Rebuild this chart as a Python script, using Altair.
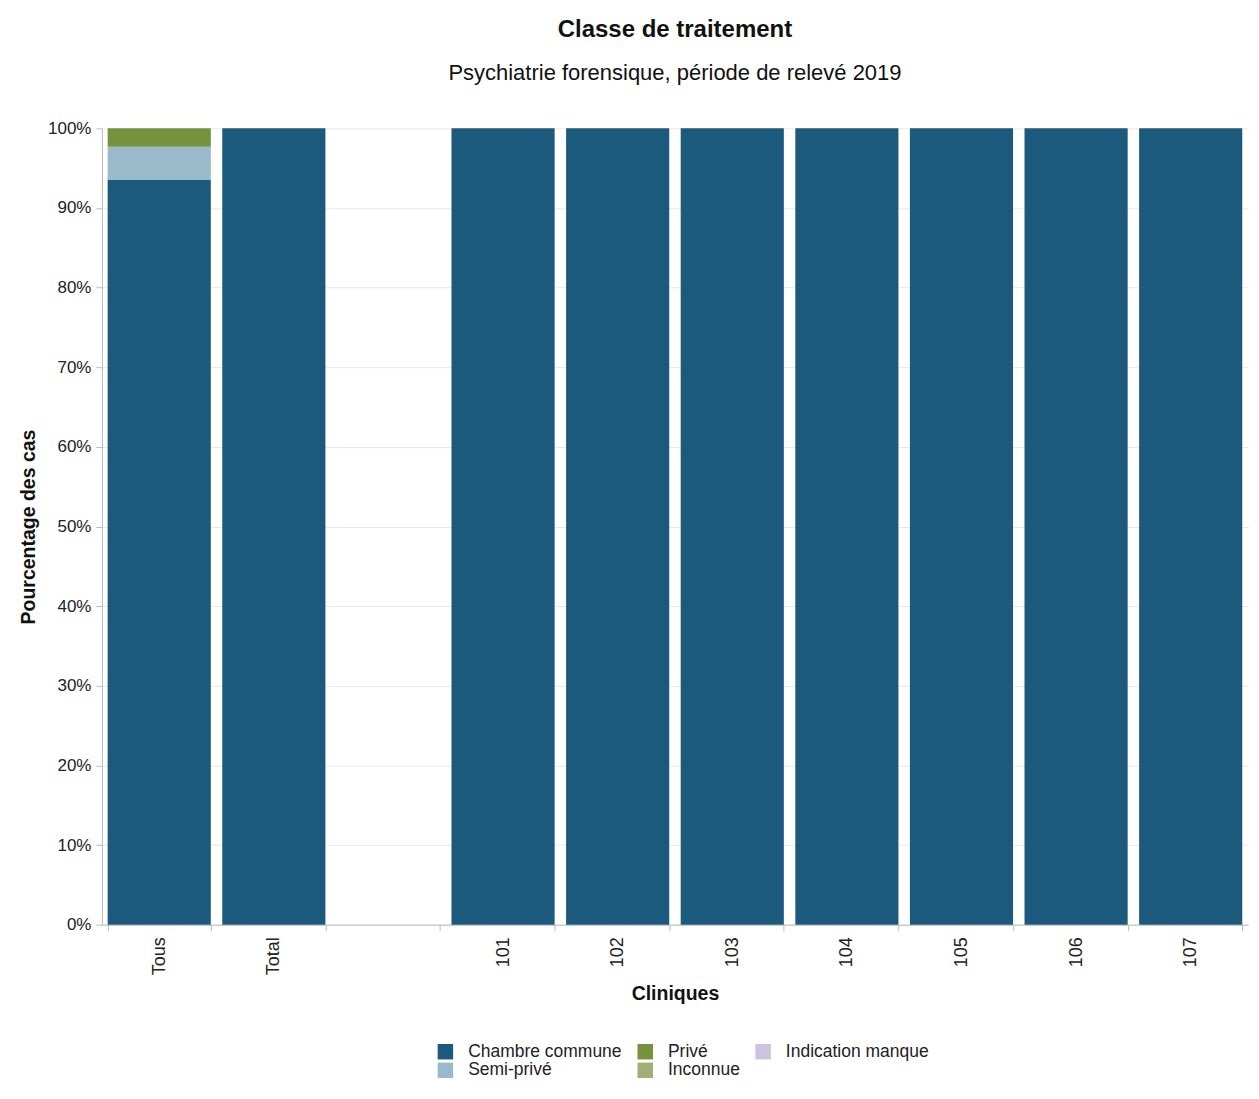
import altair as alt
import pandas as pd

categories = ["Tous", "Total", " ", "101", "102", "103", "104", "105", "106", "107"]
classes = ["Chambre commune", "Semi-privé", "Privé", "Inconnue", "Indication manque"]
colors = ["#1c5a7d", "#9ab9cb", "#75923c", "#a2ae78", "#cdc3dd"]
# legend order (row-major in 3 columns so columns read as in the reference)
legend_order = ["Chambre commune", "Privé", "Indication manque", "Semi-privé", "Inconnue"]

chambre = [93.5, 100, None, 100, 100, 100, 100, 100, 100, 100]
semi = [4.2, 0, None, 0, 0, 0, 0, 0, 0, 0]
prive = [2.3, 0, None, 0, 0, 0, 0, 0, 0, 0]
inconnue = [0, 0, None, 0, 0, 0, 0, 0, 0, 0]
indication = [0, 0, None, 0, 0, 0, 0, 0, 0, 0]

series = [chambre, semi, prive, inconnue, indication]
rows = []
for ci, (cls, vals) in enumerate(zip(classes, series)):
    for cat, v in zip(categories, vals):
        if v is None:
            continue
        rows.append({"Clinique": cat, "Classe": cls, "Pct": v / 100.0, "ordre": ci})
df = pd.DataFrame(rows)

color_domain = legend_order
color_range = [colors[classes.index(c)] for c in legend_order]

FONT = "Liberation Sans"

chart = alt.Chart(df).mark_bar().encode(
    x=alt.X("Clinique:N", sort=categories,
            scale=alt.Scale(domain=categories, paddingInner=0.1, paddingOuter=0.05),
            axis=alt.Axis(title="Cliniques", labelAngle=-90, tickBand="extent",
                          labelFontSize=18, titleFontSize=19.5, titleFontWeight="bold",
                          labelColor="#222", titleColor="#111", domainColor="#bbb",
                          tickColor="#bbb", tickSize=6, labelPadding=6, titlePadding=10,
                          labelAlign="right", labelBaseline="middle")),
    y=alt.Y("Pct:Q", stack="zero",
            scale=alt.Scale(domain=[0, 1], nice=False),
            axis=alt.Axis(title="Pourcentage des cas", format=".0%", values=[i / 10 for i in range(11)],
                          labelFontSize=17, titleFontSize=19.5, titleFontWeight="bold",
                          labelColor="#222", titleColor="#111", domainColor="#bbb",
                          tickColor="#bbb", gridColor="#e8e8e8", tickSize=6,
                          labelPadding=5, titlePadding=9)),
    color=alt.Color("Classe:N",
                    scale=alt.Scale(domain=color_domain, range=color_range),
                    legend=alt.Legend(title=None, orient="none", legendX=335, legendY=915,
                                      direction="horizontal",
                                      columns=3, symbolType="square", symbolSize=240,
                                      symbolStrokeWidth=0, labelFontSize=17.5, labelColor="#222",
                                      columnPadding=14, rowPadding=0, labelOffset=14)),
    order=alt.Order("ordre:Q", sort="ascending"),
).properties(
    width=1147,
    height=797,
    title=alt.TitleParams(
        text="Classe de traitement",
        subtitle="Psychiatrie forensique, période de relevé 2019",
        fontSize=24, subtitleFontSize=22, fontWeight="bold",
        color="#111", subtitleColor="#111",
        anchor="middle", frame="group", offset=35, subtitlePadding=21,
        font=FONT, subtitleFont=FONT,
    ),
    padding={"left": 10, "top": 10, "right": 3, "bottom": 5},
).configure(
    font=FONT,
).configure_view(
    stroke=None,
)

chart.save("out.html", embed_options={"renderer": "svg", "actions": False})
